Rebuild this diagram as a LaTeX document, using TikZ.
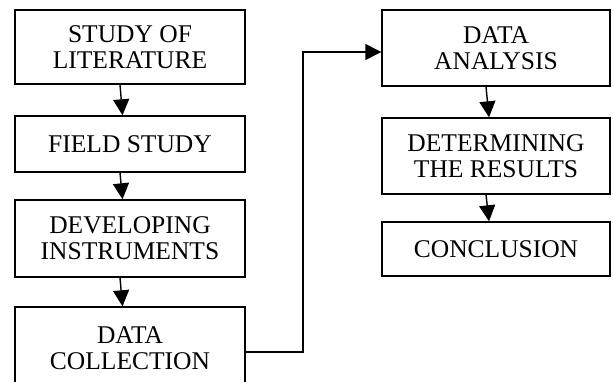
\documentclass[tikz,border=0pt]{standalone}
\usepackage{fontspec}
\setmainfont{Liberation Serif}
\usetikzlibrary{arrows.meta}
\begin{document}
\begin{tikzpicture}[x=1pt,y=-1pt,
  stepbox/.style={draw,line width=1.4pt,align=center,inner sep=0pt,
    font=\fontsize{25.5}{26}\selectfont},
  arr/.style={line width=1.4pt,-{Triangle[length=16pt,width=16pt]}}]
\useasboundingbox (0,0) rectangle (613,381);
\clip (0,0) rectangle (613,381);
\node[stepbox,minimum width=230pt,minimum height=74pt] (b1) at (130,47) {STUDY OF\\LITERATURE};
\node[stepbox,minimum width=230pt,minimum height=56pt] (b2) at (130,144) {FIELD STUDY};
\node[stepbox,minimum width=230pt,minimum height=77pt] (b3) at (130,238.5) {DEVELOPING\\INSTRUMENTS};
\node[stepbox,minimum width=230pt,minimum height=82pt] (b4) at (130,348) {DATA\\COLLECTION};
\node[stepbox,minimum width=228pt,minimum height=76pt] (b5) at (496,48) {DATA\\ANALYSIS};
\node[stepbox,minimum width=228pt,minimum height=76pt] (b6) at (496,156) {DETERMINING\\THE RESULTS};
\node[stepbox,minimum width=228pt,minimum height=54pt] (b7) at (496,249) {CONCLUSION};
\coordinate (j1) at (303,352);
\coordinate (j2) at (303,52);
\draw[arr] ([xshift=-10pt]b1.south) -- ([xshift=-7.5pt]b2.north);
\draw[arr] ([xshift=-10pt]b2.south) -- ([xshift=-7.5pt]b3.north);
\draw[arr] ([xshift=-10pt]b3.south) -- ([xshift=-7.5pt]b4.north);
\draw[arr] ([yshift=-4pt]b4.east) -- (j1) -- (j2) -- ([yshift=-4pt]b5.west);
\draw[arr] ([xshift=-10pt]b5.south) -- ([xshift=-7pt]b6.north);
\draw[arr] ([xshift=-10pt]b6.south) -- ([xshift=-7pt]b7.north);
\end{tikzpicture}
\end{document}
